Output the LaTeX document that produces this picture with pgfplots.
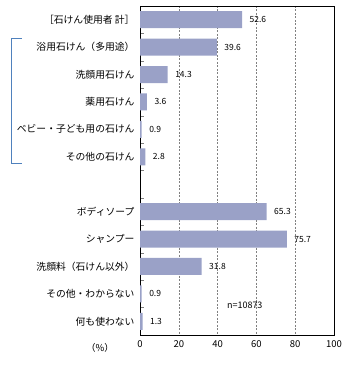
\documentclass[border=0pt]{standalone}
\usepackage{pgfplots}
\pgfplotsset{compat=1.18}
\usepackage{fontspec}
\setmainfont{Noto Sans CJK JP}
\definecolor{barc}{RGB}{154,161,199}
\definecolor{brk}{RGB}{79,129,189}
\begin{document}
\begin{tikzpicture}
\begin{axis}[
  name=ax,
  scale only axis,
  width=194pt, height=329pt,
  xbar, bar width=17pt,
  xmin=0, xmax=100,
  ymin=-0.5, ymax=11.5,
  y dir=reverse,
  xtick={0,20,40,60,80,100},
  ytick={0,1,2,3,4,5,7,8,9,10,11},
  yticklabels={{［石けん使用者\ 計］},浴用石けん（多用途）,洗顔用石けん,薬用石けん,ベビー・子ども用の石けん,その他の石けん,ボディソープ,シャンプー,洗顔料（石けん以外）,その他・わからない,何も使わない},
  minor ytick={0.5,1.5,2.5,3.5,4.5,5.5,6.5,7.5,8.5,9.5,10.5},
  major tick length=0pt,
  minor tick length=3.5pt,
  tick align=inside,
  ytick pos=left, xtick pos=bottom,
  xmajorgrids,
  major grid style={dash pattern=on 2pt off 1.5pt, gray},
  axis line style={black},
  /pgf/number format/assume math mode=true,
  ticklabel style={font=\fontsize{9.5}{10}\selectfont},
  yticklabel style={font=\fontsize{9.8}{10}\selectfont, xshift=-2pt},
  xticklabel style={yshift=-2pt},
  nodes near coords,
  point meta=explicit symbolic,
  every node near coord/.append style={font=\fontsize{8.5}{9}\selectfont, anchor=west, xshift=4pt},
  clip=false,
]
\addplot[fill=barc, draw=none] coordinates {
 (52.6,0) [52.6]
 (39.6,1) [39.6]
 (14.3,2) [14.3]
 (3.6,3) [3.6]
 (0.9,4) [0.9]
 (2.8,5) [2.8]
 (65.3,7) [65.3]
 (75.7,8) [75.7]
 (31.8,9) [31.8]
 (0.9,10) [0.9]
 (1.3,11) [1.3]
};
\node[font=\fontsize{9}{10}\selectfont] at (axis cs:54,10.4) {n=10873};
\node[font=\fontsize{9.5}{10}\selectfont] at ([yshift=-13pt]rel axis cs:-0.206,0) {（\%）};
\draw[brk, line width=0.8pt] ([xshift=-118pt]axis cs:0,0.7) -- ([xshift=-129pt]axis cs:0,0.7) -- ([xshift=-129pt]axis cs:0,5.25) -- ([xshift=-118pt]axis cs:0,5.25);
\end{axis}
\pgfresetboundingbox
\path ([xshift=-140pt,yshift=-38pt]ax.south west) rectangle ([xshift=20pt,yshift=6pt]ax.north east);
\end{tikzpicture}
\end{document}
